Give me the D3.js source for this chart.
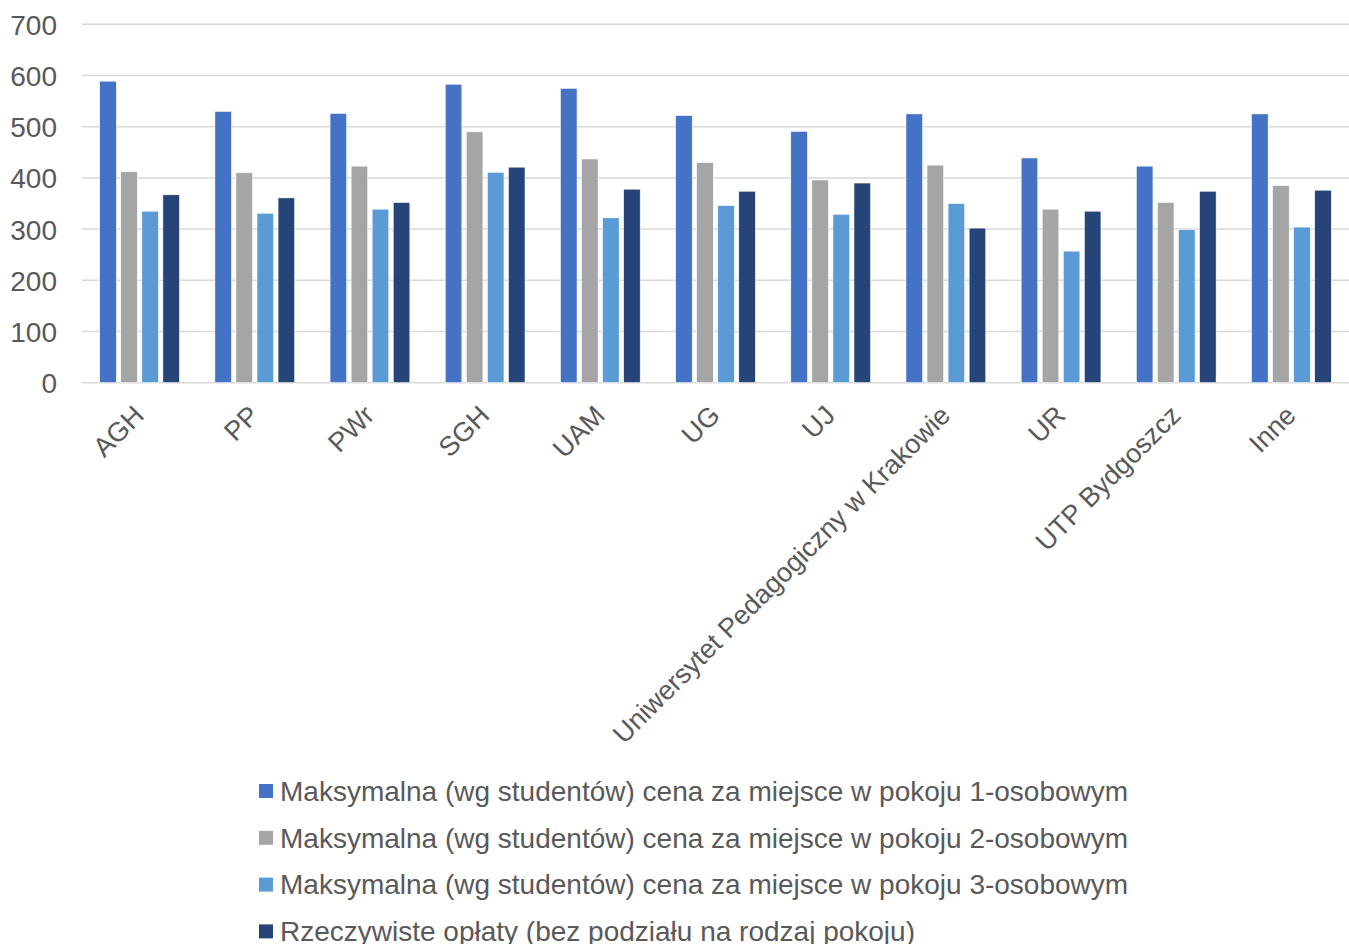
<!DOCTYPE html>
<html><head><meta charset="utf-8">
<script src="https://cdn.jsdelivr.net/npm/d3@7"></script>
<style>body{margin:0;background:#fff}svg{display:block}text{font-family:"Liberation Sans",Arial,sans-serif;fill:#595959}</style>
</head><body><svg id="c" width="1349" height="944"></svg>
<script>
const categories = ["AGH","PP","PWr","SGH","UAM","UG","UJ","Uniwersytet Pedagogiczny w Krakowie","UR","UTP Bydgoszcz","Inne"];
const seriesNames = [
  "Maksymalna (wg studentów) cena za miejsce w pokoju 1-osobowym",
  "Maksymalna (wg studentów) cena za miejsce w pokoju 2-osobowym",
  "Maksymalna (wg studentów) cena za miejsce w pokoju 3-osobowym",
  "Rzeczywiste opłaty (bez podziału na rodzaj pokoju)"
];
const room1 = [589,530,526,583,575,522,491,525,439,423,525];
const room2 = [412,410,423,490,437,430,396,425,339,352,385];
const room3 = [335,331,339,411,322,346,329,350,257,299,304];
const actual = [367,361,352,421,378,374,390,302,335,374,376];
const colors = ["#4472C4","#A5A5A5","#5B9BD5","#264478"];
const yTicks = [0,100,200,300,400,500,600,700];

const series = [room1,room2,room3,actual];
const svg = d3.select("#c");
const x0 = d3.scaleBand().domain(categories).range([82,1349]).padding(0);
const x1 = d3.scaleBand().domain(d3.range(4)).range([0,x0.bandwidth()]).paddingInner(0.21).paddingOuter(0.84);
const y = d3.scaleLinear().domain([0,700]).range([382.7,24.3]);

// gridlines
svg.append("g").selectAll("line").data(yTicks).join("line")
  .attr("x1",82).attr("x2",1349).attr("y1",d=>y(d)).attr("y2",d=>y(d))
  .attr("stroke","#D9D9D9").attr("stroke-width",1.5);

// y labels
const yAxis = d3.axisLeft(y).tickValues(yTicks).tickSize(0).tickPadding(0);
const gy = svg.append("g").attr("transform","translate(57,0)").call(yAxis);
gy.select(".domain").remove();
gy.selectAll("text").style("font-size","28px").style("font-family","Liberation Sans, Arial, sans-serif").attr("fill","#595959").attr("dy","0.36em");

// bars
const g = svg.append("g");
categories.forEach((c,i)=>{
  series.forEach((s,j)=>{
    g.append("rect").attr("x",x0(c)+x1(j)).attr("width",x1.bandwidth())
      .attr("y",y(s[i])).attr("height",y(0)-y(s[i]))
      .attr("fill",colors[j]).attr("stroke","#fff").attr("stroke-width",0.6);
  });
});

// x labels
svg.append("g").selectAll("text").data(categories).join("text")
  .attr("transform",d=>`translate(${x0(d)+x0.bandwidth()/2+6},${417}) rotate(-45)`)
  .attr("text-anchor","end").style("font-size","27px").text(d=>d);

// legend
const lg = svg.append("g");
seriesNames.forEach((n,j)=>{
  const cy = 791 + j*46.8;
  lg.append("rect").attr("x",259).attr("y",cy-7).attr("width",14).attr("height",14).attr("fill",colors[j]);
  lg.append("text").attr("x",280).attr("y",cy).attr("dy","0.35em").style("font-size","28px").text(n);
});
</script></body></html>
